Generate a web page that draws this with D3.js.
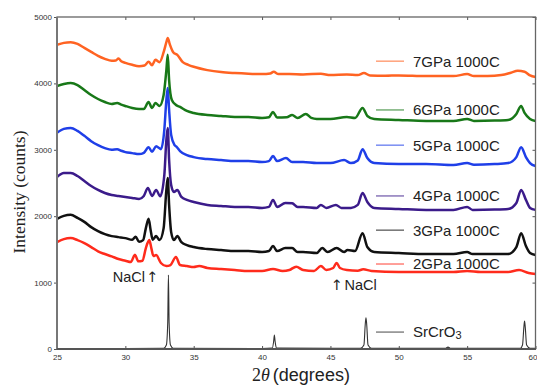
<!DOCTYPE html>
<html>
<head>
<meta charset="utf-8">
<script src="https://cdn.jsdelivr.net/npm/d3@7"></script>
<style>
  body { margin: 0; background: #fff; }
  svg { display: block; }
</style>
</head>
<body>
<script>
// ---- data (2θ in degrees, intensity in counts) ----
const xTicks = [25, 30, 35, 40, 45, 50, 55, 60];
const yTicks = [0, 1000, 2000, 3000, 4000, 5000];

const seriesNames = ["7GPa 1000C", "6GPa 1000C", "5GPa 1000C", "4GPa 1000C", "3GPa 1000C", "2GPa 1000C", "SrCrO3"];

const gpa7 = [[25.0,4580],[25.5,4610],[26.0,4620],[26.5,4595],[27.0,4535],[27.5,4475],[28.0,4415],[28.5,4370],[29.0,4340],[29.3,4345],[29.5,4375],[29.7,4335],[30.0,4310],[30.5,4280],[31.0,4260],[31.4,4270],[31.7,4325],[31.95,4275],[32.2,4355],[32.5,4320],[32.8,4470],[33.0,4620],[33.1,4685],[33.25,4590],[33.5,4470],[33.8,4430],[34.2,4320],[34.6,4280],[35.0,4250],[36.0,4200],[37.0,4170],[38.0,4155],[39.0,4145],[40.0,4140],[40.6,4150],[40.85,4175],[41.2,4140],[42.0,4140],[43.0,4135],[44.3,4145],[45.0,4125],[46.2,4135],[47.0,4125],[47.45,4155],[47.9,4120],[49.0,4115],[50.0,4120],[52.0,4110],[54.0,4110],[55.0,4140],[55.5,4110],[56.5,4110],[57.5,4125],[58.2,4160],[58.7,4190],[59.2,4175],[59.6,4120],[60.0,4095]];

const gpa6 = [[25.0,3960],[25.5,3990],[26.0,4005],[26.5,3975],[27.0,3900],[27.5,3825],[28.0,3765],[28.5,3720],[29.0,3690],[29.4,3705],[29.7,3680],[30.0,3660],[30.5,3630],[31.0,3615],[31.35,3615],[31.7,3720],[31.95,3630],[32.2,3705],[32.5,3660],[32.8,3825],[33.0,4200],[33.1,4430],[33.2,4050],[33.4,3750],[33.7,3675],[34.0,3645],[34.5,3585],[35.0,3555],[36.0,3525],[37.0,3510],[38.0,3495],[39.0,3495],[40.0,3480],[40.5,3490],[40.8,3570],[41.1,3485],[41.8,3490],[42.2,3525],[42.6,3480],[43.2,3540],[43.6,3480],[44.0,3465],[45.0,3465],[46.2,3495],[46.8,3480],[47.35,3630],[47.7,3510],[48.2,3465],[50.0,3450],[52.0,3435],[54.0,3435],[55.0,3465],[55.5,3435],[57.0,3440],[58.0,3450],[58.6,3540],[58.95,3660],[59.2,3555],[59.6,3465],[60.0,3435]];

const gpa5 = [[25.0,3255],[25.5,3315],[26.0,3330],[26.5,3285],[27.0,3210],[27.5,3130],[28.0,3070],[28.5,3025],[29.0,3000],[29.4,3010],[29.7,2985],[30.0,2965],[30.5,2950],[31.0,2935],[31.35,2955],[31.7,3040],[31.95,2970],[32.25,3055],[32.6,3010],[32.85,3300],[33.0,3750],[33.1,3930],[33.2,3600],[33.35,3225],[33.6,3070],[33.75,3045],[34.0,2980],[34.5,2920],[35.0,2890],[36.0,2860],[37.0,2845],[38.0,2830],[39.0,2830],[40.0,2815],[40.5,2830],[40.8,2905],[41.1,2830],[41.75,2875],[42.2,2815],[43.0,2815],[44.0,2800],[45.0,2800],[46.0,2845],[46.5,2800],[47.0,2840],[47.35,3010],[47.7,2875],[48.2,2800],[50.0,2785],[52.0,2785],[54.0,2770],[55.0,2800],[55.5,2775],[57.0,2785],[58.0,2800],[58.6,2890],[58.95,3040],[59.3,2890],[59.6,2800],[60.0,2755]];

const gpa4 = [[25.0,2590],[25.5,2650],[26.0,2650],[26.5,2605],[27.0,2530],[27.5,2455],[28.0,2395],[28.5,2350],[29.0,2320],[29.5,2305],[30.0,2290],[30.5,2275],[31.0,2260],[31.35,2305],[31.65,2425],[31.95,2305],[32.25,2395],[32.55,2300],[32.85,2620],[33.0,3150],[33.1,3330],[33.2,2850],[33.35,2470],[33.55,2365],[33.8,2395],[34.1,2290],[34.5,2245],[35.0,2215],[36.0,2170],[37.0,2155],[38.0,2140],[39.0,2140],[40.0,2125],[40.5,2140],[40.8,2245],[41.1,2140],[41.7,2200],[42.2,2195],[42.6,2140],[43.0,2140],[44.0,2125],[44.3,2170],[44.7,2125],[45.4,2170],[45.8,2125],[46.5,2125],[47.0,2170],[47.35,2350],[47.7,2215],[48.2,2125],[50.0,2110],[52.0,2095],[54.0,2095],[55.0,2140],[55.4,2095],[57.0,2100],[58.0,2110],[58.6,2200],[58.95,2395],[59.3,2245],[59.6,2125],[60.0,2095]];

const gpa3 = [[25.0,1960],[25.5,2005],[26.0,2020],[26.5,1975],[27.0,1915],[27.5,1835],[28.0,1775],[28.5,1730],[29.0,1700],[29.5,1685],[30.0,1670],[30.5,1645],[30.75,1690],[31.0,1615],[31.3,1640],[31.5,1820],[31.7,1960],[31.85,1790],[32.0,1645],[32.25,1700],[32.5,1640],[32.8,1820],[33.0,2395],[33.1,2575],[33.2,2170],[33.35,1760],[33.55,1640],[33.8,1700],[34.1,1610],[34.5,1565],[35.0,1535],[36.0,1505],[37.0,1490],[38.0,1475],[39.0,1475],[40.0,1460],[40.5,1475],[40.8,1550],[41.1,1475],[41.7,1520],[42.2,1520],[42.6,1460],[43.0,1460],[44.0,1445],[44.4,1520],[44.8,1460],[45.45,1520],[46.0,1460],[46.25,1490],[46.8,1475],[47.35,1745],[47.7,1535],[48.2,1460],[50.0,1445],[52.0,1430],[54.0,1430],[55.0,1460],[55.4,1430],[57.0,1430],[58.0,1430],[58.6,1535],[58.95,1745],[59.3,1550],[59.6,1445],[60.0,1415]];

const gpa2 = [[25.0,1610],[25.5,1655],[26.0,1670],[26.5,1640],[27.0,1595],[27.5,1535],[28.0,1470],[28.5,1430],[29.0,1395],[29.5,1355],[30.0,1330],[30.4,1310],[30.7,1420],[30.95,1320],[31.25,1330],[31.5,1520],[31.75,1640],[31.9,1520],[32.05,1400],[32.25,1415],[32.6,1295],[33.0,1250],[33.3,1265],[33.7,1385],[34.0,1265],[34.5,1250],[35.0,1235],[35.4,1250],[36.0,1220],[37.0,1205],[38.0,1190],[39.0,1175],[40.0,1175],[40.8,1205],[41.5,1175],[42.0,1190],[42.5,1240],[43.0,1190],[43.8,1175],[44.3,1250],[44.7,1190],[45.2,1220],[45.45,1295],[45.7,1220],[46.2,1190],[47.0,1180],[47.4,1200],[48.0,1175],[50.0,1160],[52.0,1160],[54.0,1160],[55.0,1175],[56.0,1160],[58.0,1160],[58.8,1190],[59.5,1145],[60.0,1130]];

const srcro3 = [[25,8],[30,8],[32.8,10],[33.0,60],[33.1,400],[33.15,1115],[33.2,400],[33.3,60],[33.5,12],[40.0,8],[40.75,15],[40.85,120],[40.9,210],[40.95,120],[41.05,15],[47.2,10],[47.45,60],[47.55,380],[47.6,470],[47.65,380],[47.75,60],[48.0,12],[53.4,10],[53.6,28],[53.8,10],[58.9,12],[59.05,60],[59.15,330],[59.2,420],[59.25,330],[59.35,60],[59.6,12],[60,10]];

// where each legend entry sits (value on the intensity axis)
const legendLevels = [4335, 3600, 3070, 2305, 1790, 1280, 255];

// ---- drawing ----
const W = 537, H = 385;
const svg = d3.select("body").append("svg").attr("width", W).attr("height", H);

const x = d3.scaleLinear().domain([25, 60]).range([57, 535.5]);
const y = d3.scaleLinear().domain([0, 5000]).range([349, 17]);

const colors = ["#ff6322", "#187818", "#1f3fe8", "#3b1b8a", "#111111", "#ff2b1c", "#333333"];
const data = [gpa2, gpa3, gpa4, gpa5, gpa6, gpa7];
const dataColors = [colors[5], colors[4], colors[3], colors[2], colors[1], colors[0]];

const line = d3.line().x(d => x(d[0])).y(d => y(d[1])).curve(d3.curveMonotoneX);

const plot = svg.append("g");
plot.append("clipPath").attr("id", "clip").append("rect")
  .attr("x", 57).attr("y", 17).attr("width", 478.5).attr("height", 332);

const lines = plot.append("g").attr("clip-path", "url(#clip)");
lines.append("path").datum(srcro3).attr("d", line)
  .attr("fill", "none").attr("stroke", colors[6]).attr("stroke-width", 1.1);
data.forEach((s, i) => {
  lines.append("path").datum(s).attr("d", line)
    .attr("fill", "none").attr("stroke", dataColors[i])
    .attr("stroke-width", 2.5).attr("stroke-linejoin", "round");
});

// axes
const axisColor = "#555";
const gLeft = svg.append("g").attr("transform", "translate(57,0)")
  .call(d3.axisLeft(y).tickValues(yTicks).tickSize(3).tickPadding(2).tickFormat(d3.format("d")));
const gBottom = svg.append("g").attr("transform", "translate(0,349)")
  .call(d3.axisBottom(x).tickValues(xTicks).tickSize(-3).tickPadding(5).tickFormat(d3.format("d")));
const gRight = svg.append("g").attr("transform", "translate(535.5,0)")
  .call(d3.axisRight(y).tickValues(yTicks).tickSize(-3).tickFormat(""));
const gTop = svg.append("g").attr("transform", "translate(0,17)")
  .call(d3.axisTop(x).tickValues(xTicks).tickSize(-3).tickFormat(""));
[gLeft, gBottom, gRight, gTop].forEach(g => {
  g.select(".domain").remove();
  g.selectAll("line").attr("stroke", axisColor).attr("stroke-width", 1);
  g.selectAll("text").attr("font-family", "Liberation Sans, Arial, sans-serif")
    .attr("font-size", 8).attr("fill", "#333");
});
gBottom.selectAll(".tick").filter(d => d === 60).select("text")
  .attr("text-anchor", "end").attr("dx", 1.5);
svg.append("rect").attr("x", 57).attr("y", 17).attr("width", 478.5).attr("height", 332)
  .attr("fill", "none").attr("stroke", "#666").attr("stroke-width", 1.3);
svg.append("line").attr("x1", 57).attr("x2", 57).attr("y1", 17).attr("y2", 349)
  .attr("stroke", "#777").attr("stroke-width", 2);
svg.append("line").attr("x1", 57).attr("x2", 536).attr("y1", 349).attr("y2", 349)
  .attr("stroke", "#555").attr("stroke-width", 1.8);

// legend
const lg = svg.append("g");
seriesNames.forEach((name, i) => {
  const yy = y(legendLevels[i]);
  lg.append("line").attr("x1", 376).attr("x2", 404).attr("y1", yy).attr("y2", yy)
    .attr("stroke", colors[i]).attr("stroke-width", 1.2).attr("stroke-opacity", 0.75);
  const t = lg.append("text").attr("x", 413).attr("y", yy).attr("dy", "0.36em")
    .attr("font-family", "Liberation Sans, Arial, sans-serif").attr("font-size", 15).attr("fill", "#222");
  if (name === "SrCrO3") {
    t.append("tspan").text("SrCrO");
    t.append("tspan").text("3").attr("font-size", 11).attr("dy", 2);
  } else {
    t.text(name);
  }
});

// NaCl annotations
const ann = svg.append("g").attr("font-family", "Liberation Sans, Arial, sans-serif")
  .attr("font-size", 14.5).attr("fill", "#222");
ann.append("text").attr("x", x(31.95) - 7).attr("y", 282).attr("text-anchor", "end").text("NaCl");
ann.append("text").attr("x", x(31.95)).attr("y", 282).attr("text-anchor", "middle")
  .attr("font-family", "DejaVu Sans").text("↑");
ann.append("text").attr("x", x(45.45)).attr("y", 290).attr("text-anchor", "middle")
  .attr("font-family", "DejaVu Sans").text("↑");
ann.append("text").attr("x", x(45.45) + 8).attr("y", 290).text("NaCl");

// axis titles
const xt = svg.append("text").attr("x", 252).attr("y", 381).attr("fill", "#222").attr("font-size", 18);
xt.append("tspan").attr("font-family", "Liberation Serif, Times New Roman, serif").text("2");
xt.append("tspan").attr("font-family", "Liberation Serif, Times New Roman, serif").attr("font-style", "italic").text("θ");
xt.append("tspan").attr("font-family", "Liberation Sans, Arial, sans-serif").attr("dx", 3).text("(degrees)");

svg.append("text").attr("transform", "translate(25,192) rotate(-90)")
  .attr("text-anchor", "middle").attr("font-family", "Liberation Serif, Times New Roman, serif")
  .attr("font-size", 17.5).attr("fill", "#222").text("Intensity (counts)");
</script>
</body>
</html>
